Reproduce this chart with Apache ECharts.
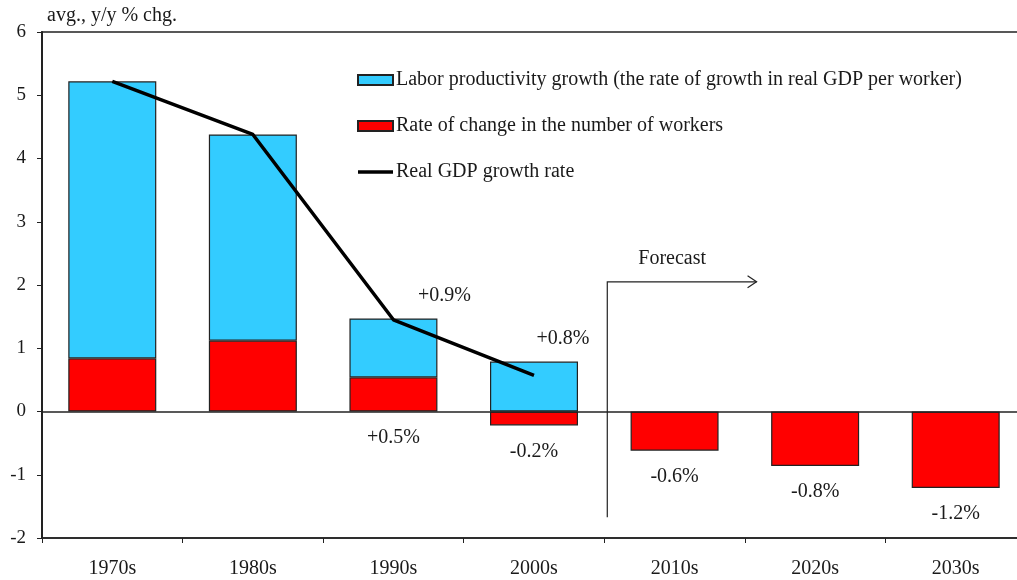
<!DOCTYPE html>
<html>
<head>
<meta charset="utf-8">
<script src="https://cdn.jsdelivr.net/npm/echarts@6/dist/echarts.min.js"></script>
<style>
  html, body { margin: 0; padding: 0; background: #fff; overflow: hidden; }
  /* 图表区域比窗口稍宽，右边框落在画面外 */
  #chart { width: 1026px; height: 580px; }
</style>
</head>
<body>
<div id="chart"></div>
<script>
// ===== data =====
const decades = ["1970s", "1980s", "1990s", "2000s", "2010s", "2020s", "2030s"];
const workersChange = [0.84, 1.12, 0.54, -0.22, -0.62, -0.86, -1.21];
const productivity = [4.38, 3.26, 0.93, 0.79, null, null, null];
const gdpGrowth = [5.22, 4.38, 1.45, 0.57, null, null, null];
const workersLabels = ["", "", "+0.5%", "-0.2%", "-0.6%", "-0.8%", "-1.2%"];
const productivityLabels = ["", "", "+0.9%", "+0.8%", "", "", ""];
const yTicks = [-2, -1, 0, 1, 2, 3, 4, 5, 6];

const FONT = "Liberation Serif";
const FS = 20;
const TXT = "#1a1a1a";

const chart = echarts.init(document.getElementById("chart"));

// 标签偏移（上方两个标签往右挪）
const prodLabelOffsetX = { 2: 51, 3: 29 };

const option = {
    animation: false,
    textStyle: { fontFamily: FONT, color: TXT },
    grid: {
        left: 42, top: 32, bottom: 42, right: 0,
        show: true, borderColor: "#222", borderWidth: 1.5, backgroundColor: "transparent"
    },
    legend: {
        orient: "vertical",
        left: 357, top: 70, padding: 0,
        itemWidth: 35, itemHeight: 10, itemGap: 26,
        icon: "rect",
        textStyle: { fontFamily: FONT, fontSize: FS, color: TXT, padding: [0, 0, 0, -2] },
        data: [
            "Labor productivity growth (the rate of growth in real GDP per worker)",
            "Rate of change in the number of workers",
            { name: "Real GDP growth rate", icon: "path://M0,0H36V3.5H0Z" }
        ]
    },
    xAxis: {
        type: "category",
        data: decades,
        axisLine: { onZero: false, lineStyle: { color: "#222", width: 1.5 } },
        axisTick: { show: true, length: 5, lineStyle: { color: "#222" } },
        axisLabel: { fontFamily: FONT, fontSize: FS, color: TXT, margin: 21 }
    },
    yAxis: {
        type: "value",
        min: yTicks[0], max: yTicks[yTicks.length - 1], interval: 1,
        name: "avg., y/y % chg.",
        nameLocation: "end",
        nameGap: 6,
        nameTextStyle: { fontFamily: FONT, fontSize: FS, color: TXT, align: "left", padding: [0, 0, 0, 5] },
        axisLine: { show: true, lineStyle: { color: "#222", width: 2 } },
        axisTick: { show: true, length: 5, lineStyle: { color: "#222" } },
        axisLabel: { fontFamily: FONT, fontSize: 19, color: TXT, margin: 16 },
        splitLine: { show: false }
    },
    series: [
        {
            name: "Rate of change in the number of workers",
            type: "bar",
            stack: "total",
            barWidth: 88,
            itemStyle: { color: "#ff0000", borderColor: "#222", borderWidth: 1.2 },
            data: workersChange.map((v, i) => ({
                value: v,
                label: {
                    show: !!workersLabels[i],
                    position: "bottom",
                    distance: 16,
                    formatter: () => workersLabels[i],
                    fontFamily: FONT, fontSize: FS, color: TXT
                }
            })),
            markLine: {
                silent: true,
                symbol: "none",
                label: { show: false },
                lineStyle: { color: "#222", width: 1.5, type: "solid" },
                data: [{ yAxis: 0 }]
            }
        },
        {
            name: "Labor productivity growth (the rate of growth in real GDP per worker)",
            type: "bar",
            stack: "total",
            barWidth: 88,
            itemStyle: { color: "#33ccff", borderColor: "#222", borderWidth: 1.2 },
            data: productivity.map((v, i) => ({
                value: v,
                label: {
                    show: !!productivityLabels[i],
                    position: "top",
                    distance: 13,
                    offset: [prodLabelOffsetX[i] || 0, 0],
                    formatter: () => productivityLabels[i],
                    fontFamily: FONT, fontSize: FS, color: TXT
                }
            }))
        },
        {
            name: "Real GDP growth rate",
            type: "line",
            symbol: "none",
            z: 5,
            lineStyle: { color: "#000", width: 3.5 },
            itemStyle: { color: "#000" },
            data: gdpGrowth
        }
    ]
};

chart.setOption(option);

// ===== Forecast 箭头 =====
function drawForecast() {
    const x1 = chart.convertToPixel({ xAxisIndex: 0 }, "2000s");
    const x2 = chart.convertToPixel({ xAxisIndex: 0 }, "2010s");
    const xb = (x1 + x2) / 2 + 3;
    const yTop = chart.convertToPixel({ yAxisIndex: 0 }, 2.05);
    const yBot = chart.convertToPixel({ yAxisIndex: 0 }, -1.67);
    const xEnd = x2 + 82;
    chart.setOption({
        graphic: [
            {
                type: "polyline",
                shape: { points: [[xb, yBot], [xb, yTop], [xEnd, yTop]] },
                style: { stroke: "#222", lineWidth: 1.2, fill: null }
            },
            {
                type: "polyline",
                shape: { points: [[xEnd - 9, yTop - 6], [xEnd, yTop], [xEnd - 9, yTop + 6]] },
                style: { stroke: "#222", lineWidth: 1.2, fill: null }
            },
            {
                type: "text",
                x: xb + 31, y: yTop - 23,
                style: { text: "Forecast", font: FS + "px " + FONT, fill: TXT, verticalAlign: "middle" }
            }
        ]
    });
}
drawForecast();
</script>
</body>
</html>
